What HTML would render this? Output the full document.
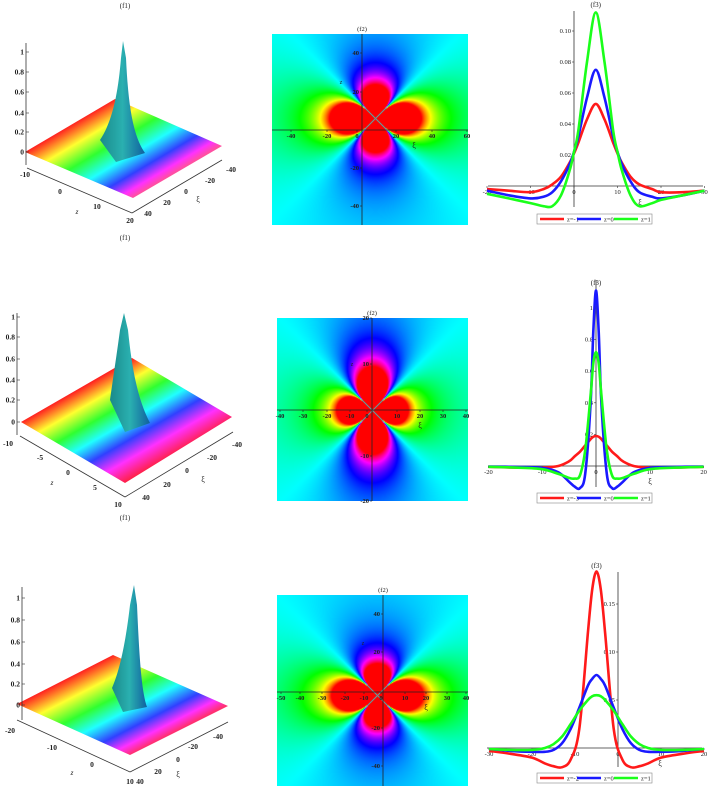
<!DOCTYPE html>
<html><head><meta charset="utf-8">
<style>
html,body{margin:0;padding:0;background:#fff;}
#root{position:relative;width:708px;height:787px;overflow:hidden;font-family:"Liberation Serif",serif;}
canvas{position:absolute;}
svg{position:absolute;left:0;top:0;}
</style></head>
<body>
<div id="root">
<canvas id="d1" style="left:272px;top:34px" width="196" height="191"></canvas>
<canvas id="d2" style="left:277px;top:318px" width="191" height="183"></canvas>
<canvas id="d3" style="left:277px;top:595px" width="191" height="191"></canvas>
<svg id="main" width="708" height="787" xmlns="http://www.w3.org/2000/svg">
<defs>
<linearGradient id="rb1" gradientUnits="userSpaceOnUse" x1="25" y1="152" x2="73" y2="233">
<stop offset="0" stop-color="#ff2020"/><stop offset="0.2" stop-color="#ffff30"/><stop offset="0.4" stop-color="#30ff30"/><stop offset="0.6" stop-color="#20ffff"/><stop offset="0.78" stop-color="#3040ff"/><stop offset="0.92" stop-color="#ff30ff"/><stop offset="1" stop-color="#ff50a0"/></linearGradient>
<linearGradient id="rb2" gradientUnits="userSpaceOnUse" x1="21" y1="422" x2="73" y2="513">
<stop offset="0" stop-color="#ff2020"/><stop offset="0.17" stop-color="#ffff30"/><stop offset="0.34" stop-color="#30ff30"/><stop offset="0.5" stop-color="#20ffff"/><stop offset="0.66" stop-color="#3040ff"/><stop offset="0.82" stop-color="#ff30ff"/><stop offset="1" stop-color="#ff2040"/></linearGradient>
<linearGradient id="rb3" gradientUnits="userSpaceOnUse" x1="17" y1="704" x2="61" y2="790">
<stop offset="0" stop-color="#ff2020"/><stop offset="0.2" stop-color="#ffff30"/><stop offset="0.4" stop-color="#30ff30"/><stop offset="0.58" stop-color="#20ffff"/><stop offset="0.76" stop-color="#3040ff"/><stop offset="0.9" stop-color="#ff30ff"/><stop offset="1" stop-color="#ff3070"/></linearGradient>
<linearGradient id="sp" x1="0" y1="0" x2="1" y2="0">
<stop offset="0" stop-color="#1a8a8a"/><stop offset="0.5" stop-color="#2ab0b0"/><stop offset="1" stop-color="#1060a0"/></linearGradient>
</defs>
</svg>
</div>
<script>
// ---------- line chart data ----------
const c1X=[-20,-15,-10,-7,-5,-3,-1,0,1,3,5,7,9,10,11,13,15,18,20,25,30];
const c1Red=[-.002,-.003,-.004,-.002,.001,.006,.015,.021,.028,.043,.053,.043,.028,.021,.015,.006,.001,-.002,-.004,-.004,-.003];
const c1Blue=[-.003,-.006,-.008,-.007,-.004,.003,.014,.022,.032,.057,.075,.057,.032,.022,.014,.003,-.004,-.007,-.008,-.006,-.003];
const c1Green=[-.005,-.008,-.011,-.013,-.013,-.006,.01,.022,.036,.08,.112,.08,.036,.022,.01,-.006,-.013,-.011,-.009,-.006,-.003];
const c1Labels=["z=-1","z=0","z=1"];
const c1XTicks=[-20,-10,0,10,20,30];
const c1YTicks=[0.02,0.04,0.06,0.08,0.10];

const c2X=[-20,-15,-10,-7,-5,-4,-3,-2,-1,-0.5,0,0.5,1,2,3,4,5,7,10,15,20];
const c2Red=[-.005,-.01,-.01,0,.03,.06,.09,.13,.17,.185,.19,.185,.17,.13,.09,.06,.03,0,-.01,-.01,-.005];
const c2Blue=[-.003,-.006,-.012,-.04,-.1,-.13,-.14,-.05,.4,.85,1.11,.85,.4,-.05,-.14,-.13,-.1,-.04,-.012,-.006,-.003];
const c2Green=[-.005,-.01,-.02,-.05,-.075,-.08,-.06,.1,.45,.65,.72,.65,.45,.1,-.06,-.08,-.075,-.05,-.02,-.01,-.005];
const c2Labels=["z=-3","z=0","z=1"];
const c2XTicks=[-20,-10,0,10,20];
const c2YTicks=[0.2,0.4,0.6,0.8,1];

const c3X=[-30,-25,-20,-17,-15,-13,-11,-9,-7,-6,-5,-4,-3,-1,1,3,5,7,10,15,20];
const c3Red=[-.003,-.006,-.01,-.016,-.019,-.02,-.012,.02,.12,.165,.184,.165,.12,.02,-.012,-.02,-.019,-.016,-.01,-.006,-.003];
const c3Blue=[-.001,-.003,-.004,-.004,-.002,.005,.02,.042,.065,.072,.076,.072,.065,.042,.02,.005,-.002,-.004,-.004,-.003,-.001];
const c3Green=[-.001,-.002,-.002,0,.004,.012,.025,.039,.05,.054,.055,.054,.05,.039,.025,.012,.004,0,-.002,-.002,-.001];
const c3Labels=["z=-2","z=0","z=1"];
const c3XTicks=[-30,-20,-10,0,10,20];
const c3YTicks=[0.05,0.10,0.15];

const NS="http://www.w3.org/2000/svg";
const svg=document.getElementById('main');
function el(tag,attrs,parent){const e=document.createElementNS(NS,tag);for(const k in attrs)e.setAttribute(k,attrs[k]);(parent||svg).appendChild(e);return e;}
function txt(x,y,s,size,anchor,parent,weight){const t=el('text',{x:x,y:y,'font-size':size||7,'text-anchor':anchor||'middle','font-family':'Liberation Serif, serif',fill:'#222','font-weight':weight||'normal'},parent);t.textContent=s;return t;}
function smooth(pts){let d='M'+pts[0][0].toFixed(1)+','+pts[0][1].toFixed(1);for(let i=0;i<pts.length-1;i++){const p0=pts[Math.max(0,i-1)],p1=pts[i],p2=pts[i+1],p3=pts[Math.min(pts.length-1,i+2)];const c1=[p1[0]+(p2[0]-p0[0])/6,p1[1]+(p2[1]-p0[1])/6],c2=[p2[0]-(p3[0]-p1[0])/6,p2[1]-(p3[1]-p1[1])/6];d+=' C'+c1[0].toFixed(1)+','+c1[1].toFixed(1)+' '+c2[0].toFixed(1)+','+c2[1].toFixed(1)+' '+p2[0].toFixed(1)+','+p2[1].toFixed(1);}return d;}

function lineChart(cfg){
  const g=el('g',{});
  
  
  const xs=v=>cfg.x0+(v-cfg.xv0)*cfg.kx, ys=v=>cfg.y0-v*cfg.ky;
  const title=txt(xs(cfg.titleX),cfg.titleY,'(f3)',7,'middle',g);
  
  
  const xa=el('line',{x1:cfg.xl,x2:cfg.xr,y1:ys(0),y2:ys(0),stroke:'#333','stroke-width':0.8},g);
  
  
  const ya=el('line',{x1:xs(0),x2:xs(0),y1:cfg.yt,y2:cfg.yb,stroke:'#333','stroke-width':0.8},g);
  
  
  cfg.xt.forEach(v=>{el('line',{x1:xs(v),x2:xs(v),y1:ys(0),y2:ys(0)+2,stroke:'#333','stroke-width':0.6},g);
    const t=txt(xs(v),ys(0)+8,String(v),6.5,'middle',g);
    
    });
  cfg.yt2.forEach(v=>{el('line',{x1:xs(0)-2,x2:xs(0),y1:ys(v),y2:ys(v),stroke:'#333','stroke-width':0.6},g);
    const t=txt(xs(0)-3,ys(v)+2,cfg.fmt(v),6.5,'end',g);
    
    });
  const xl=txt(cfg.xiX,cfg.xiY,'ξ',8,'middle',g);
  
  
  const cols=['#ff1a1a','#1a1aff','#1aff1a'];
  cfg.series.forEach((s,i)=>{const pts=cfg.X.map((xv,j)=>[xs(xv),ys(s[j])]);
    const p=el('path',{d:smooth(pts),fill:'none',stroke:cols[i],'stroke-width':2.6,'stroke-linejoin':'round'},g);
    
    });
  const lg=el('g',{},g);
  
  
  el('rect',{x:537,y:cfg.ly,width:115,height:10,fill:'#fff',stroke:'#888','stroke-width':0.6},lg);
  cfg.labels.forEach((l,i)=>{const bx=540+i*37;
    const ln=el('line',{x1:bx,x2:bx+24,y1:cfg.ly+5,y2:cfg.ly+5,stroke:cols[i],'stroke-width':2.5},lg);
    
    
    const t=txt(bx+27,cfg.ly+7.5,l,6.5,'start',lg);
    
    });
}
lineChart({name:'line-chart-row1',X:c1X,series:[c1Red,c1Blue,c1Green],labels:c1Labels,xt:c1XTicks,yt2:c1YTicks,fmt:v=>v.toFixed(2),
  x0:574,xv0:0,kx:4.35,y0:186,ky:1550,xl:488,xr:703,yt:11,yb:207,titleX:5,titleY:7,xiX:640,xiY:205,ly:214});
lineChart({name:'line-chart-row2',X:c2X,series:[c2Red,c2Blue,c2Green],labels:c2Labels,xt:c2XTicks,yt2:c2YTicks,fmt:v=>String(v),
  x0:596,xv0:0,kx:5.38,y0:466,ky:158,xl:488,xr:703,yt:280,yb:487,titleX:0,titleY:285,xiX:650,xiY:484,ly:493});
lineChart({name:'line-chart-row3',X:c3X,series:[c3Red,c3Blue,c3Green],labels:c3Labels,xt:c3XTicks,yt2:c3YTicks,fmt:v=>v.toFixed(2),
  x0:618,xv0:0,kx:4.3,y0:748,ky:960,xl:487,xr:702,yt:572,yb:767,titleX:-5,titleY:568,xiX:660,xiY:766,ly:773});

// ---------- density plots ----------
function hsl2rgb(h){h=((h%360)+360)%360;const f=n=>{const k=(n+h/30)%12;return 255*(0.5-0.5*Math.max(-1,Math.min(k-3,9-k,1)));};return [f(0),f(8),f(4)];}
function density(id,cx,cy,r0h,r0v){const c=document.getElementById(id),ctx=c.getContext('2d'),W=c.width,H=c.height;const img=ctx.createImageData(W,H);
  for(let y=0;y<H;y++)for(let x=0;x<W;x++){const dx=x-cx,dy=y-cy,r=Math.sqrt(dx*dx+dy*dy)+0.01;const c2=(dx*dx-dy*dy)/(r*r);const s2=dy*dy/(r*r);
    const r0=r0h*(1-s2)+r0v*s2;let v=c2*Math.pow(r/r0,-2.2);v=Math.max(-1,Math.min(1,v));const rgb=hsl2rgb(180-180*v);const i=(y*W+x)*4;
    img.data[i]=rgb[0];img.data[i+1]=rgb[1];img.data[i+2]=rgb[2];img.data[i+3]=255;}
  ctx.putImageData(img,0,0);}
density('d1',375-272,118-34,46,34);
density('d2',372-277,410-318,36,44);
density('d3',377-277,695-595,46,32);

function densAxes(cfg){const g=el('g',{});
  
  
  const t=txt(cfg.ax,cfg.top-3,'(f2)',6.5,'middle',g);
  
  
  el('line',{x1:cfg.l,x2:cfg.r,y1:cfg.ay,y2:cfg.ay,stroke:'#222','stroke-width':0.8},g);
  el('line',{x1:cfg.ax,x2:cfg.ax,y1:cfg.top,y2:cfg.bot,stroke:'#222','stroke-width':0.8},g);
  cfg.xt.forEach(p=>{el('line',{x1:p[1],x2:p[1],y1:cfg.ay,y2:cfg.ay+2,stroke:'#222','stroke-width':0.6},g);
    const tl=txt(p[1],cfg.ay+8,p[0],6.5,'middle',g,'bold');
    
    });
  cfg.yt.forEach(p=>{el('line',{x1:cfg.ax-2,x2:cfg.ax,y1:p[1],y2:p[1],stroke:'#222','stroke-width':0.6},g);
    const tl=txt(cfg.ax-3,p[1]+2,p[0],6.5,'end',g,'bold');
    
    });
  txt(cfg.xi[0],cfg.xi[1],'ξ',8,'middle',g);
  txt(cfg.zi[0],cfg.zi[1],'z',6,'middle',g);
}
densAxes({name:'density-axes-row1',ax:362,ay:130,l:272,r:468,top:34,bot:225,
  xt:[['-40',291],['-20',327],['0',357],['20',396],['40',432],['60',467]],yt:[['40',53],['20',92],['-20',168],['-40',206]],xi:[414,148],zi:[341,84]});
densAxes({name:'density-axes-row2',ax:372,ay:410,l:277,r:468,top:318,bot:501,
  xt:[['-40',280],['-30',303],['-20',327],['-10',350],['0',367],['10',397],['20',420],['30',443],['40',466]],yt:[['20',318],['10',364],['-10',456],['-20',501]],xi:[420,428],zi:[352,366]});
densAxes({name:'density-axes-row3',ax:383,ay:692,l:277,r:468,top:595,bot:786,
  xt:[['-50',281],['-40',300],['-30',322],['-20',345],['-10',364],['0',381],['10',405],['20',426],['30',447],['40',466]],yt:[['40',614],['20',652],['-20',728],['-40',766]],xi:[426,710],zi:[363,645]});

// ---------- 3D surfaces ----------
function surf(cfg){const g=el('g',{});
  
  
  const c=cfg.c;
  const plane=el('polygon',{points:c.map(p=>p.join(',')).join(' '),fill:'url(#'+cfg.grad+')'},g);
  
  
  const sp=el('path',{d:cfg.spike,fill:'url(#sp)'},g);
  
  
  el('line',{x1:cfg.vx,x2:cfg.vx,y1:cfg.vt,y2:cfg.vb,stroke:'#333','stroke-width':0.8},g);
  cfg.vticks.forEach(p=>{el('line',{x1:cfg.vx,x2:cfg.vx+3,y1:p[1],y2:p[1],stroke:'#333','stroke-width':0.6},g);
    const t=txt(cfg.vx-2,p[1]+2.5,p[0],7.5,'end',g,'bold');
    
    });
  el('line',{x1:cfg.za[0][0],y1:cfg.za[0][1],x2:cfg.za[1][0],y2:cfg.za[1][1],stroke:'#333','stroke-width':0.8},g);
  el('line',{x1:cfg.za[1][0],y1:cfg.za[1][1],x2:cfg.xa[0],y2:cfg.xa[1],stroke:'#333','stroke-width':0.8},g);
  cfg.zl.forEach(p=>{const t=txt(p[1],p[2],p[0],7.5,'middle',g,'bold');
    
    });
  cfg.xl.forEach(p=>{const t=txt(p[1],p[2],p[0],7.5,'middle',g,'bold');
    
    });
  txt(cfg.zn[0],cfg.zn[1],'z',7.5,'middle',g).setAttribute('font-style','italic');
  txt(cfg.xn[0],cfg.xn[1],'ξ',8,'middle',g);
}
surf({name:'surface-plot-row1',grad:'rb1',c:[[25,152],[115,99],[222,146],[133,198]],
  spike:'M100,140 C112,122 118,95 121,58 L123,41 L126,58 C128,100 132,135 145,153 L116,162 Z',
  vx:26,vt:43,vb:165,vticks:[['1',52],['0.8',72],['0.6',92],['0.4',113],['0.2',132],['0',152]],
  za:[[27,168],[132,213]],xa:[222,160],
  zl:[['-10',25,177],['0',60,194],['10',97,209],['20',130,223]],
  xl:[['-40',231,172],['-20',210,183],['0',186,194],['20',167,205],['40',148,216]],zn:[77,214],xn:[198,202]});
surf({name:'surface-plot-row2',grad:'rb2',c:[[21,422],[132,358],[232,417],[125,483]],
  spike:'M110,400 C112,385 116,360 120,330 L124,313 L128,330 C132,370 138,400 150,423 L125,432 Z',
  vx:17,vt:313,vb:435,vticks:[['1',317],['0.8',337],['0.6',359],['0.4',380],['0.2',400],['0',422]],
  za:[[20,436],[125,497]],xa:[233,432],
  zl:[['-10',8,446],['-5',40,460],['0',68,475],['5',95,490],['10',118,507]],
  xl:[['-40',237,447],['-20',212,460],['0',187,473],['20',167,487],['40',146,500]],zn:[52,485],xn:[203,482]});
surf({name:'surface-plot-row3',grad:'rb3',c:[[17,704],[113,655],[228,706],[130,755]],
  spike:'M112,688 C120,670 126,640 130,605 L134,585 L137,605 C139,650 141,690 147,707 L123,712 Z',
  vx:22,vt:587,vb:720,vticks:[['1',598],['0.8',620],['0.6',642],['0.4',664],['0.2',684],['0',705]],
  za:[[17,720],[130,772]],xa:[228,722],
  zl:[['-20',10,733],['-10',52,750],['0',92,767],['10',130,784]],
  xl:[['-40',218,739],['-20',193,749],['0',178,762],['20',158,774],['40',140,784]],zn:[72,775],xn:[178,777]});

[[125,8],[125,240],[125,520]].forEach(p=>{const t=txt(p[0],p[1],'(f1)',7,'middle');
  
  });
</script>
</body></html>
